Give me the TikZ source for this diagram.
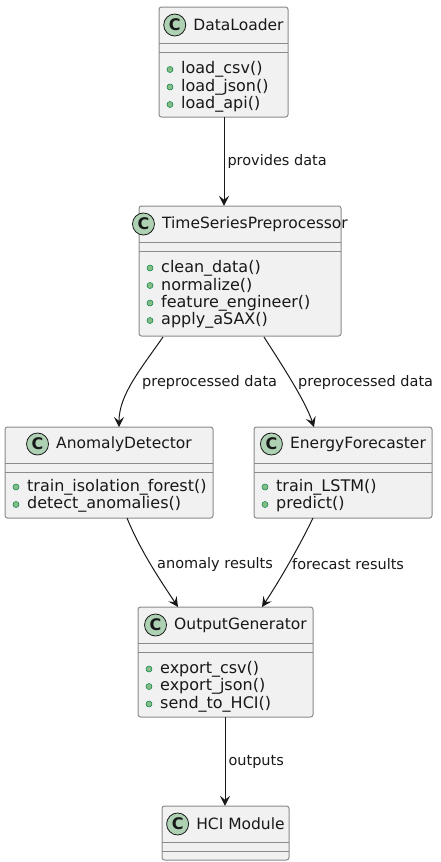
\documentclass[tikz,border=0pt]{standalone}
\usepackage{fontspec}
\setmainfont{DejaVu Sans}
\usetikzlibrary{arrows.meta}
\definecolor{boxfill}{HTML}{F1F1F1}
\definecolor{boxline}{HTML}{8A8A8A}
\definecolor{circfill}{HTML}{ADD1B2}
\definecolor{ink}{HTML}{181818}
\definecolor{pubfill}{HTML}{84BE84}
\definecolor{publine}{HTML}{038048}
\tikzset{
  classbox/.style={draw=boxline, fill=boxfill, line width=1pt, rounded corners=2.5pt, inner sep=0pt},
  sepline/.style={draw=boxline, line width=1pt},
  cname/.style={inner sep=0pt, anchor=center, font=\fontsize{15.5}{18}\selectfont, text=ink},
  ccirc/.style={circle, draw=ink, line width=0.8pt, fill=circfill, minimum size=22pt, inner sep=0pt, font=\fontsize{16}{16}\selectfont\bfseries, text=ink},
  meth/.style={inner sep=0pt, anchor=west, font=\fontsize{16}{18}\selectfont, text=ink},
  pub/.style={circle, draw=publine, line width=0.5pt, fill=pubfill, minimum size=6pt, inner sep=0pt},
  rel/.style={draw=ink, line width=1pt, -{Stealth[length=10pt,width=10pt,inset=4pt]}},
  rlabel/.style={inner sep=0pt, anchor=west, font=\fontsize{14.5}{17}\selectfont, text=ink},
}
\begin{document}
\begin{tikzpicture}[x=1pt,y=-1pt]
\useasboundingbox (0,0) rectangle (440,862);

% DataLoader
\path[classbox] (159,7) rectangle (288,117);
\node[inner sep=0pt, minimum width=129pt, minimum height=110pt] (dl) at (223.5,62) {};
\node[cname] (dlname) at (238.5,25) {DataLoader};
\node[ccirc] (dlc) at ([xshift=-18.5pt]dlname.west) {C};
\draw[sepline] (159,43) -- (288,43);
\draw[sepline] (159,52) -- (288,52);
\node[pub] (dlp1) at (170,69.5) {};
\node[meth] (dlm1) at (181,69.5) {load\_csv()};
\node[pub] (dlp2) at (170,87) {};
\node[meth] (dlm2) at (181,87) {load\_json()};
\node[pub] (dlp3) at (170,104.5) {};
\node[meth] (dlm3) at (181,104.5) {load\_api()};

% TimeSeriesPreprocessor
\path[classbox] (139,206) rectangle (341,336);
\node[inner sep=0pt, minimum width=202pt, minimum height=130pt] (tsp) at (240,271) {};
\node[cname] (tspname) at (255,224) {TimeSeriesPreprocessor};
\node[ccirc] (tspc) at ([xshift=-18.5pt]tspname.west) {C};
\draw[sepline] (139,242) -- (341,242);
\draw[sepline] (139,251) -- (341,251);
\node[pub] (tspp1) at (150,268) {};
\node[meth] (tspm1) at (161,268) {clean\_data()};
\node[pub] (tspp2) at (150,285.5) {};
\node[meth] (tspm2) at (161,285.5) {normalize()};
\node[pub] (tspp3) at (150,303) {};
\node[meth] (tspm3) at (161,303) {feature\_engineer()};
\node[pub] (tspp4) at (150,320.5) {};
\node[meth] (tspm4) at (161,320.5) {apply\_aSAX()};

% AnomalyDetector
\path[classbox] (5,427) rectangle (213,518);
\node[inner sep=0pt, minimum width=208pt, minimum height=91pt] (ad) at (109,472.5) {};
\node[cname] (adname) at (124,444) {AnomalyDetector};
\node[ccirc] (adc) at ([xshift=-18.5pt]adname.west) {C};
\draw[sepline] (5,463) -- (213,463);
\draw[sepline] (5,472) -- (213,472);
\node[pub] (adp1) at (16,487) {};
\node[meth] (adm1) at (27,487) {train\_isolation\_forest()};
\node[pub] (adp2) at (16,504.5) {};
\node[meth] (adm2) at (27,504.5) {detect\_anomalies()};

% EnergyForecaster
\path[classbox] (254,427) rectangle (432,518);
\node[inner sep=0pt, minimum width=178pt, minimum height=91pt] (ef) at (343,472.5) {};
\node[cname] (efname) at (358,444) {EnergyForecaster};
\node[ccirc] (efc) at ([xshift=-18.5pt]efname.west) {C};
\draw[sepline] (254,463) -- (432,463);
\draw[sepline] (254,472) -- (432,472);
\node[pub] (efp1) at (265,487) {};
\node[meth] (efm1) at (276,487) {train\_LSTM()};
\node[pub] (efp2) at (265,504.5) {};
\node[meth] (efm2) at (276,504.5) {predict()};

% OutputGenerator
\path[classbox] (138,607) rectangle (313,717);
\node[inner sep=0pt, minimum width=175pt, minimum height=110pt] (og) at (225.5,662) {};
\node[cname] (ogname) at (240.5,625) {OutputGenerator};
\node[ccirc] (ogc) at ([xshift=-18.5pt]ogname.west) {C};
\draw[sepline] (138,643) -- (313,643);
\draw[sepline] (138,652) -- (313,652);
\node[pub] (ogp1) at (149,669) {};
\node[meth] (ogm1) at (160,669) {export\_csv()};
\node[pub] (ogp2) at (149,686.5) {};
\node[meth] (ogm2) at (160,686.5) {export\_json()};
\node[pub] (ogp3) at (149,704) {};
\node[meth] (ogm3) at (160,704) {send\_to\_HCI()};

% HCI Module
\path[classbox] (162,806) rectangle (289,860);
\node[inner sep=0pt, minimum width=127pt, minimum height=54pt] (hci) at (225.5,833) {};
\node[cname] (hciname) at (240.5,824) {HCI Module};
\node[ccirc] (hcic) at ([xshift=-18.5pt]hciname.west) {C};
\draw[sepline] (162,842) -- (289,842);
\draw[sepline] (162,851) -- (289,851);

% connectors
\draw[rel] (dl.south -| 224,0) -- (tsp.north -| 224,0)
  node[rlabel, pos=0.5, xshift=3pt] (l1) {provides data};
\coordinate (a2s) at (163,337);
\coordinate (a2e) at (119,427);
\draw[rel] (a2s) .. controls (140,370) and (119,395) .. (a2e);
\node[rlabel] (l2) at (142,382) {preprocessed data};
\coordinate (a3s) at (264,337);
\coordinate (a3e) at (314,427);
\draw[rel] (a3s) .. controls (280,362) and (305,400) .. (a3e);
\node[rlabel] (l3) at (298,382) {preprocessed data};
\coordinate (a4s) at (127,518);
\coordinate (a4e) at (178,607);
\draw[rel] (a4s) .. controls (140,550) and (160,580) .. (a4e);
\node[rlabel] (l4) at (157,564) {anomaly results};
\coordinate (a5s) at (313,518);
\coordinate (a5e) at (262,607);
\draw[rel] (a5s) .. controls (300,545) and (280,580) .. (a5e);
\node[rlabel] (l5) at (292,564) {forecast results};
\draw[rel] (og.south -| 225,0) -- (hci.north -| 225,0)
  node[rlabel, pos=0.5, xshift=3pt] (l6) {outputs};
\end{tikzpicture}
\end{document}
